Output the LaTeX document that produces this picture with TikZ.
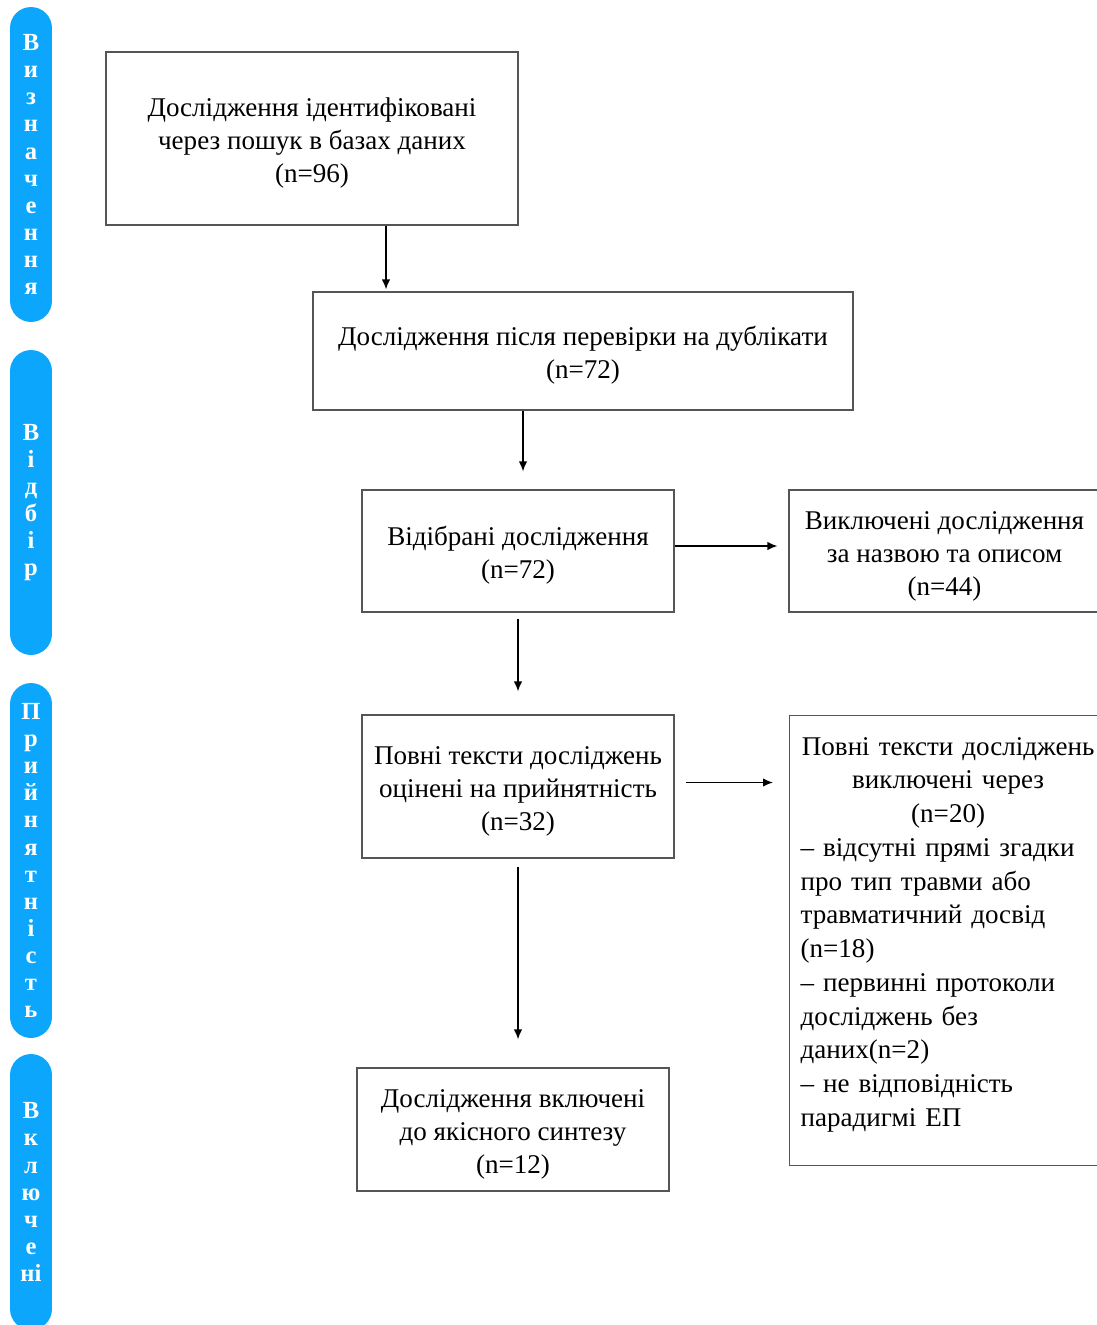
\documentclass[tikz,border=0pt]{standalone}
\usepackage{fontspec}
\setmainfont{Liberation Serif}
\usetikzlibrary{arrows.meta,calc}
\definecolor{pillblue}{RGB}{12,166,253}
\definecolor{boxgray}{RGB}{85,85,85}
\newcommand{\tstrut}{\rule{0pt}{0.57cm}}
\tikzset{
  box/.style={draw=boxgray, line width=0.75pt, align=center, inner sep=0pt,
    font=\fontsize{15.4}{18.8}\selectfont},
  pill/.style={fill=pillblue, text=white, rounded corners=0.42cm, minimum width=0.84cm,
    inner sep=0pt, align=center, font=\fontsize{14}{15.4}\selectfont\bfseries},
  arr/.style={-{Latex[length=0.2cm,width=0.17cm]}, line width=0.8pt}
}
\begin{document}
\begin{tikzpicture}[x=0.02cm, y=-0.02cm]
  \useasboundingbox (0,0) rectangle (1097,1325);
  \clip (0,0) rectangle (1097,1325);

  \node[pill, minimum height=6.3cm] (p1) at (31,164.5) {В\\и\\з\\н\\а\\ч\\е\\н\\н\\я};
  \node[pill, minimum height=6.1cm] (p2) at (31,502.5) {В\\і\\д\\б\\і\\р};
  \node[pill, minimum height=7.1cm] (p3) at (31,860.5) {П\\р\\и\\й\\н\\я\\т\\н\\і\\с\\т\\ь};
  \node[pill, minimum height=5.52cm] (p4) at (31,1192) {В\\к\\л\\ю\\ч\\е\\ні};

  \node[box, minimum width=8.24cm, minimum height=3.46cm] (b1) at (312,138.5)
    {\tstrut Дослідження ідентифіковані\\ через пошук в базах даних\\ (n=96)};
  \node[box, minimum width=10.8cm, minimum height=2.36cm] (b2) at (583,351)
    {\tstrut Дослідження після перевірки на дублікати\\ (n=72)};
  \node[box, minimum width=6.24cm, minimum height=2.44cm] (b3) at (518,551)
    {\tstrut Відібрані дослідження\\ (n=72)};
  \node[box, minimum width=6.22cm, minimum height=2.44cm] (b4) at (944.5,551)
    {\tstrut Виключені дослідження\\ за назвою та описом\\ (n=44)};
  \node[box, minimum width=6.24cm, minimum height=2.86cm] (b5) at (518,786.5)
    {\tstrut Повні тексти досліджень\\ оцінені на прийнятність\\ (n=32)};
  \node[box, anchor=north west, text width=5.9cm, inner xsep=0.22cm, inner ysep=0.22cm,
    align=left, font=\fontsize{15.4}{19.2}\selectfont] (b6) at (789,715)
    {{\centering\tstrut Повні тексти досліджень\\ виключені через\\ (n=20)\par}
     – відсутні прямі згадки\\ про тип травми або\\ травматичний досвід\\ (n=18)\\
     – первинні протоколи\\ досліджень без\\ даних(n=2)\\
     – не відповідність\\ парадигмі ЕП\rule[-0.56cm]{0pt}{0.56cm}};
  \node[box, minimum width=6.24cm, minimum height=2.46cm] (b7) at (513,1129.5)
    {\tstrut Дослідження включені\\ до якісного синтезу\\ (n=12)};

  \draw[arr] ($(b1.south)+(74,0)$) -- ($(b2.north)+(-197,-2)$);
  \draw[arr] ($(b2.south)+(-60,0)$) -- ($(b3.north)+(5,-18)$);
  \draw[arr] ($(b3.east)+(0,-5)$) -- ($(b4.west)+(-11,-5)$);
  \draw[arr] ($(b3.south)+(0,6)$) -- ($(b5.north)+(0,-23)$);
  \draw[arr] ($(b5.east)+(11,-4)$) -- ($(b6.west |- b5.east)+(-16,-4)$);
  \draw[arr] ($(b5.south)+(0,8)$) -- ($(b7.north)+(5,-28)$);
\end{tikzpicture}
\end{document}
